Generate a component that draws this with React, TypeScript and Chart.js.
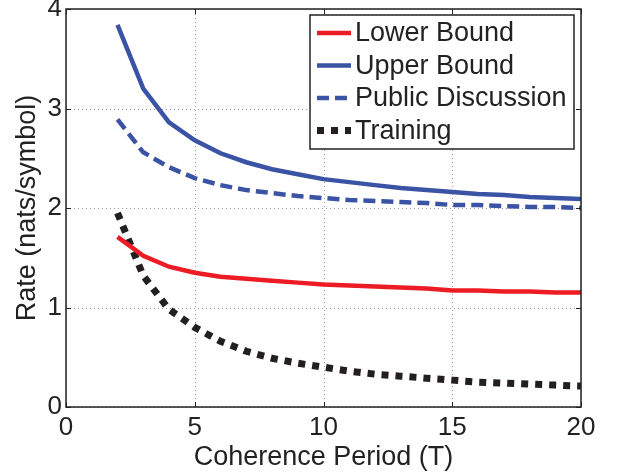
import React, { useEffect, useRef } from "react";
import { Chart, registerables } from "chart.js";

Chart.register(...registerables);

const periods = [2, 3, 4, 5, 6, 7, 8, 9, 10, 11, 12, 13, 14, 15, 16, 17, 18, 19, 20];
const lowerBound = [1.71, 1.52, 1.41, 1.35, 1.31, 1.29, 1.27, 1.25, 1.23, 1.22, 1.21, 1.2, 1.19, 1.17, 1.17, 1.16, 1.16, 1.15, 1.15];
const upperBound = [3.84, 3.2, 2.86, 2.68, 2.55, 2.46, 2.39, 2.34, 2.29, 2.26, 2.23, 2.2, 2.18, 2.16, 2.14, 2.13, 2.11, 2.1, 2.09];
const publicDiscussion = [2.89, 2.56, 2.41, 2.3, 2.23, 2.18, 2.15, 2.12, 2.1, 2.08, 2.07, 2.06, 2.05, 2.03, 2.03, 2.02, 2.01, 2.01, 2.0];
const training = [1.95, 1.32, 0.98, 0.8, 0.66, 0.56, 0.49, 0.44, 0.4, 0.36, 0.33, 0.31, 0.29, 0.27, 0.25, 0.24, 0.23, 0.22, 0.21];
const seriesLabels = ["Lower Bound", "Upper Bound", "Public Discussion", "Training"];
const xTicks = [0, 5, 10, 15, 20];
const yTicks = [0, 1, 2, 3, 4];
const xTitle = "Coherence Period (T)";
const yTitle = "Rate (nats/symbol)";

const FONT = "'Liberation Sans', Arial, Helvetica, sans-serif";
const RED = "#ed1c24";
const BLUE = "#3a53a4";
const BLACK = "#231f20";

const gridPlugin = {
  id: "dottedGrid",
  beforeDatasetsDraw(chart: any) {
    const ctx = chart.ctx;
    const { left, right, top, bottom } = chart.chartArea;
    const xs = chart.scales.x;
    const ys = chart.scales.y;
    ctx.save();
    ctx.strokeStyle = "#9a9a9a";
    ctx.lineWidth = 1;
    ctx.setLineDash([1, 3]);
    for (const v of xTicks) {
      const px = Math.round(xs.getPixelForValue(v)) + 0.5;
      ctx.beginPath();
      ctx.moveTo(px, bottom);
      ctx.lineTo(px, top);
      ctx.stroke();
    }
    for (const v of yTicks) {
      const py = Math.round(ys.getPixelForValue(v)) + 0.5;
      ctx.beginPath();
      ctx.moveTo(left, py);
      ctx.lineTo(right, py);
      ctx.stroke();
    }
    ctx.restore();
  },
};

const framePlugin = {
  id: "frameAndLegend",
  afterDraw(chart: any) {
    const ctx = chart.ctx;
    const { left, right, top, bottom } = chart.chartArea;
    const xs = chart.scales.x;
    const ys = chart.scales.y;
    ctx.save();
    ctx.strokeStyle = "#222";
    ctx.lineWidth = 1;
    ctx.setLineDash([]);
    const tl = 5;
    for (const v of xTicks) {
      const px = Math.round(xs.getPixelForValue(v)) + 0.5;
      ctx.beginPath();
      ctx.moveTo(px, bottom);
      ctx.lineTo(px, bottom - tl);
      ctx.moveTo(px, top);
      ctx.lineTo(px, top + tl);
      ctx.stroke();
    }
    for (const v of yTicks) {
      const py = Math.round(ys.getPixelForValue(v)) + 0.5;
      ctx.beginPath();
      ctx.moveTo(left, py);
      ctx.lineTo(left + tl, py);
      ctx.moveTo(right, py);
      ctx.lineTo(right - tl, py);
      ctx.stroke();
    }
    ctx.lineWidth = 1.5;
    ctx.strokeStyle = "#222";
    ctx.strokeRect(left, top, right - left, bottom - top);

    const lx = 310, ly = 15, lw = 264, lh = 134;
    ctx.fillStyle = "#fff";
    ctx.fillRect(lx, ly, lw, lh);
    ctx.lineWidth = 1.5;
    ctx.strokeStyle = "#222";
    ctx.strokeRect(lx, ly, lw, lh);
    ctx.font = `27px ${FONT}`;
    ctx.textBaseline = "middle";
    ctx.textAlign = "left";
    chart.data.datasets.forEach((ds: any, i: number) => {
      const cy = ly + 18 + i * 32.5;
      ctx.beginPath();
      ctx.strokeStyle = ds.borderColor;
      ctx.lineWidth = ds.borderWidth;
      ctx.lineCap = "butt";
      ctx.setLineDash(ds.borderDash || []);
      ctx.moveTo(317, cy);
      ctx.lineTo(351, cy);
      ctx.stroke();
      ctx.setLineDash([]);
      ctx.fillStyle = "#222";
      ctx.fillText(ds.label, 355, cy + 1);
    });
    ctx.restore();
  },
};

export default function App() {
  const ref = useRef<HTMLCanvasElement | null>(null);
  useEffect(() => {
    document.body.style.margin = "0";
    const canvas = ref.current!;
    const mk = (vals: number[]) => periods.map((t, i) => ({ x: t, y: vals[i] }));
    const chart = new Chart(canvas, {
      type: "line",
      data: {
        datasets: [
          { label: seriesLabels[0], data: mk(lowerBound), borderColor: RED, borderWidth: 4.5, pointRadius: 0, tension: 0, borderCapStyle: "butt" },
          { label: seriesLabels[1], data: mk(upperBound), borderColor: BLUE, borderWidth: 4.5, pointRadius: 0, tension: 0, borderCapStyle: "butt" },
          { label: seriesLabels[2], data: mk(publicDiscussion), borderColor: BLUE, borderWidth: 4.5, borderDash: [12, 6], pointRadius: 0, tension: 0, borderCapStyle: "butt" },
          { label: seriesLabels[3], data: mk(training), borderColor: BLACK, borderWidth: 7, borderDash: [7, 7], pointRadius: 0, tension: 0, borderCapStyle: "butt" },
        ],
      } as any,
      options: {
        animation: false,
        responsive: false,
        devicePixelRatio: 1,
        layout: { padding: { left: 0, right: 36, top: 9, bottom: 0 } },
        plugins: { legend: { display: false }, tooltip: { enabled: false } },
        scales: {
          x: {
            type: "linear",
            min: 0,
            max: 20,
            afterFit: (s: any) => { s.height = 67; s.paddingLeft = 0; s.paddingRight = 0; },
            afterBuildTicks: (s: any) => { s.ticks = xTicks.map((v) => ({ value: v })); },
            ticks: { font: { family: FONT, size: 26 }, color: "#222", padding: 5, maxRotation: 0 },
            grid: { display: false, drawTicks: false },
            border: { display: false },
            title: { display: true, text: xTitle, font: { family: FONT, size: 27, lineHeight: 1.2 }, color: "#222", padding: { top: 2, bottom: 0 } },
          },
          y: {
            type: "linear",
            min: 0,
            max: 4,
            afterFit: (s: any) => { s.width = 66; s.paddingTop = 0; s.paddingBottom = 0; },
            afterBuildTicks: (s: any) => { s.ticks = yTicks.map((v) => ({ value: v })); },
            ticks: { font: { family: FONT, size: 26 }, color: "#222", padding: 4 },
            grid: { display: false, drawTicks: false },
            border: { display: false },
            title: { display: true, text: yTitle, font: { family: FONT, size: 27, lineHeight: 1.2 }, color: "#222", padding: { top: 11, bottom: 0 } },
          },
        },
      } as any,
      plugins: [gridPlugin, framePlugin],
    });
    return () => chart.destroy();
  }, []);
  return (
    <canvas ref={ref} width={617} height={474} style={{ position: "absolute", left: 0, top: 0, width: 617, height: 474 }} />
  );
}
